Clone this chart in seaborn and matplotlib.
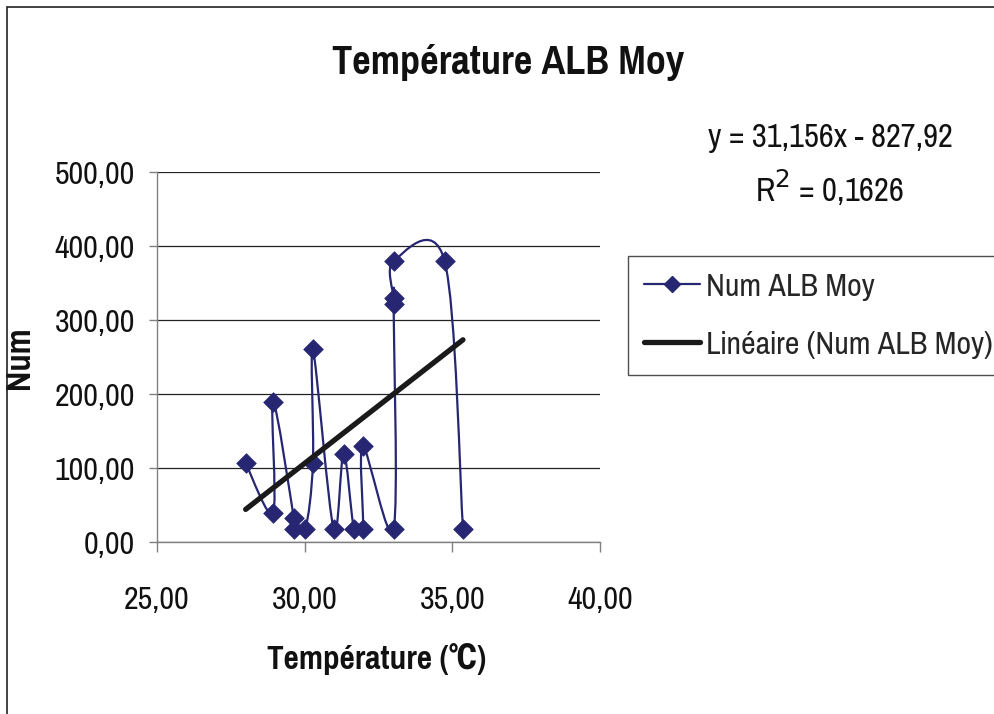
import numpy as np
import pandas as pd
import seaborn as sns
import matplotlib
matplotlib.use("Agg")
import matplotlib.pyplot as plt
from matplotlib.path import Path
from matplotlib.patches import PathPatch, Rectangle
from matplotlib.lines import Line2D
from matplotlib.ticker import FuncFormatter, MultipleLocator

# ---- data ----
temperature = [28.00, 28.93, 28.93, 29.63, 29.63, 30.02, 30.28, 30.28, 30.98,
               31.32, 31.67, 31.97, 31.97, 33.01, 33.01, 33.01, 33.01, 34.74, 35.36]
num_alb_moy = [107, 40, 190, 33, 18, 18, 107, 261, 18,
               120, 18, 18, 130, 18, 322, 330, 380, 380, 18]
trend_slope = 31.156
trend_intercept = -827.92
r_squared = "0,1626"
series_label = "Num ALB Moy"
trend_label = "Linéaire (Num ALB Moy)"
title = "Température ALB Moy"
x_label = "Température (℃)"
y_label = "Num"

df = pd.DataFrame({"Température": temperature, "Num": num_alb_moy})

sns.set_theme(style="white")
FAMILY = ["Liberation Sans Narrow", "Pragati Narrow", "Archivo Narrow",
          "Roboto Condensed", "IBM Plex Sans Condensed", "DejaVu Sans"]
plt.rcParams["font.family"] = FAMILY

NAVY = "#262673"

fig = plt.figure(figsize=(9.94, 7.14), dpi=100)
ax = fig.add_axes([0.158, 0.2405, 0.4456, 0.518])

# smoothed series line (Excel-like Bezier smoothing through the points)
pts = np.column_stack([df["Température"].values, df["Num"].values]).astype(float)
n = len(pts)
verts = [pts[0]]
codes = [Path.MOVETO]
for i in range(n - 1):
    p0 = pts[i - 1] if i > 0 else pts[i]
    p1 = pts[i]
    p2 = pts[i + 1]
    p3 = pts[i + 2] if i + 2 < n else pts[i + 1]
    c1 = p1 + (p2 - p0) / 6.0
    c2 = p2 - (p3 - p1) / 6.0
    # flat bottom plateaus stay flat (no dip under the lowest values)
    if p1[1] == p2[1] and p0[1] >= p1[1] and p3[1] >= p2[1]:
        c1[1] = p1[1]
        c2[1] = p2[1]
    verts += [c1, c2, p2]
    codes += [Path.CURVE4] * 3
ax.add_patch(PathPatch(Path(verts, codes), facecolor="none", edgecolor=NAVY,
                       lw=1.6, zorder=3))

sns.scatterplot(data=df, x="Température", y="Num", marker="D", s=100,
                color=NAVY, edgecolor=NAVY, linewidth=0.5, zorder=4, ax=ax,
                legend=False)

# linear trend line
tx = np.array([min(temperature), max(temperature)])
trend_df = pd.DataFrame({"x": tx, "y": trend_slope * tx + trend_intercept})
sns.lineplot(data=trend_df, x="x", y="y", color="#1a1a1a", lw=3.8,
             sort=False, ax=ax, zorder=5, legend=False)

ax.set_xlim(25, 40)
ax.set_ylim(0, 500)
ax.xaxis.set_major_locator(MultipleLocator(5))
ax.yaxis.set_major_locator(MultipleLocator(100))
fmt = FuncFormatter(lambda v, p: f"{v:.2f}".replace(".", ","))
ax.xaxis.set_major_formatter(fmt)
ax.yaxis.set_major_formatter(fmt)

ax.yaxis.grid(True, color="#222222", lw=0.9)
ax.xaxis.grid(False)
ax.set_axisbelow(True)
for s in ["top", "right"]:
    ax.spines[s].set_visible(False)
for s in ["left", "bottom"]:
    ax.spines[s].set_color("#808080")
    ax.spines[s].set_linewidth(1.0)

ax.tick_params(axis="x", direction="out", length=7.5, width=1.0, color="#808080",
               labelsize=25, pad=24, bottom=True, labelcolor="#111111")
ax.tick_params(axis="y", direction="out", length=6, width=1.0, color="#808080",
               labelsize=25, pad=10, left=True, labelcolor="#111111")

ax.set_xlabel(x_label, fontsize=26, fontweight="bold", color="#111111")
ax.xaxis.set_label_coords(0.495, -0.272)
ax.set_ylabel(y_label, fontsize=27, fontweight="bold", color="#111111")
ax.yaxis.set_label_coords(-0.275, 0.5)

fig.text(0.511, 0.912, title, ha="center", va="center", fontsize=31.5,
         fontweight="bold", color="#111111")

fig.text(0.835, 0.807, f"y = {str(trend_slope).replace('.', ',')}x - "
         f"{str(-trend_intercept).replace('.', ',')}",
         ha="center", va="center", fontsize=25.5, color="#111111")
fig.text(0.835, 0.737, f"R$^2$ = {r_squared}", ha="center", va="center",
         fontsize=25.5, color="#111111")

handles = [
    Line2D([], [], color=NAVY, lw=1.6, marker="D", markersize=8,
           markerfacecolor=NAVY, markeredgecolor=NAVY),
    Line2D([], [], color="#1a1a1a", lw=3.8),
]
leg = fig.legend(handles, [series_label, trend_label], loc="upper left",
                 bbox_to_anchor=(628 / 994, 1 - 256 / 714), fontsize=25,
                 frameon=True, fancybox=False, edgecolor="#222222",
                 handlelength=1.62, handletextpad=0.19, labelspacing=0.84,
                 borderpad=0.45, borderaxespad=0.0)
leg.get_frame().set_linewidth(1.0)

# chart outer border
fig.add_artist(Rectangle((7 / 994, -0.1), 1.2, 1 - 7 / 714 + 0.1,
                         transform=fig.transFigure, fill=False,
                         edgecolor="#222222", lw=1.2))

fig.savefig("out.png", dpi=100, facecolor="white")
